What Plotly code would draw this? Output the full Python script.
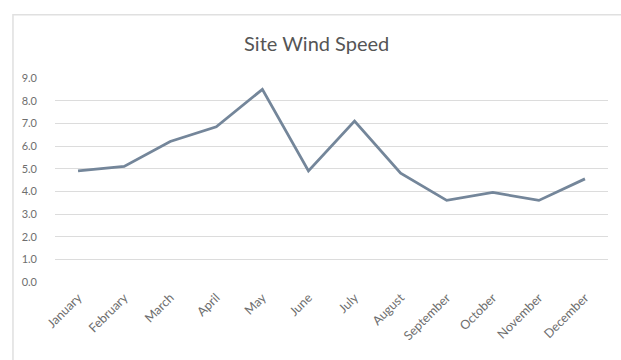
import plotly.graph_objects as go

months = ["January", "February", "March", "April", "May", "June",
          "July", "August", "September", "October", "November", "December"]
wind_speed = [4.9, 5.1, 6.2, 6.85, 8.5, 4.9, 7.1, 4.8, 3.6, 3.95, 3.6, 4.55]
y_ticks = [0, 1, 2, 3, 4, 5, 6, 7, 8, 9]

fig = go.Figure()
fig.add_trace(go.Scatter(
    x=months, y=wind_speed, mode="lines",
    line=dict(color="#74869a", width=2.8),
    hoverinfo="x+y",
))

fig.update_layout(
    width=621, height=360,
    margin=dict(l=55, r=13, t=78, b=78),
    paper_bgcolor="white", plot_bgcolor="white",
    showlegend=False,
    title=dict(text="Site Wind Speed", x=0.51, xanchor="center",
               y=0.878, yanchor="middle",
               font=dict(family="Lato", size=20, color="#555555")),
    font=dict(family="Lato", size=11, color="#6e6e6e"),
    xaxis=dict(
        range=[-0.5, 11.5],
        tickangle=-45, showgrid=False, showline=False, zeroline=False,
        ticks="", ticklabelstandoff=5,
        tickfont=dict(size=12.5, color="#6e6e6e"),
    ),
    yaxis=dict(
        range=[0, 9], tickvals=y_ticks,
        ticktext=[f"{v:.1f}" for v in y_ticks],
        showgrid=True, gridcolor="#dcdcdc", gridwidth=1.2,
        zeroline=False, showline=False, ticks="",
        ticklabelstandoff=17,
        tickfont=dict(size=11, color="#6e6e6e"),
    ),
    shapes=[dict(type="rect", xref="paper", yref="paper",
                 x0=-0.076, x1=1.05, y0=-0.39, y1=1.31,
                 line=dict(color="#e0e0e0", width=1.5))],
)

fig.write_html("out.html")
